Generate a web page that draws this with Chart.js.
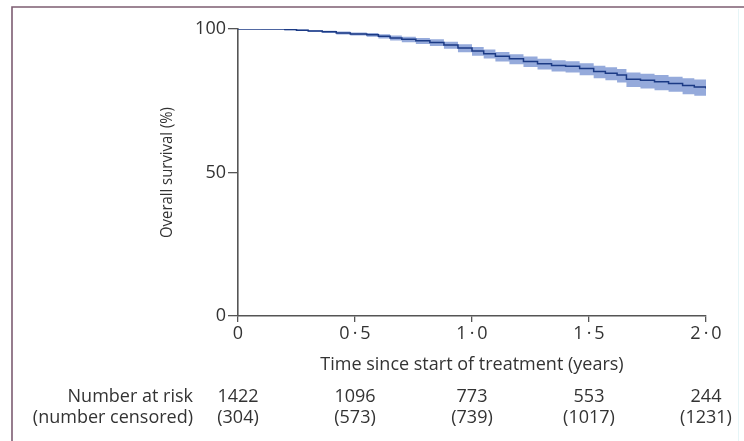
<!DOCTYPE html>
<html>
<head>
<meta charset="utf-8">
<script src="https://cdn.jsdelivr.net/npm/chart.js@4.4.0/dist/chart.umd.min.js"></script>
<style>
  html, body { margin: 0; padding: 0; background: #fff; }
  #survChart { display: block; }
</style>
</head>
<body>
<canvas id="survChart" width="744" height="441"></canvas>
<script>
// Kaplan-Meier overall survival with 95% CI band
const kmTime = [0, 0.10, 0.20, 0.25, 0.30, 0.36, 0.42, 0.48, 0.55, 0.60,
                0.65, 0.70, 0.76, 0.82, 0.88, 0.94, 1.00, 1.05, 1.10, 1.16,
                1.22, 1.28, 1.34, 1.40, 1.46, 1.52, 1.57, 1.62, 1.66, 1.72,
                1.78, 1.84, 1.90, 1.95, 2.00];
const kmSurv = [100, 100, 99.8, 99.6, 99.3, 99.0, 98.6, 98.3, 98.0, 97.5,
                96.9, 96.4, 95.9, 95.3, 94.4, 93.4, 92.3, 91.4, 90.5, 89.6,
                88.7, 87.9, 87.3, 87.0, 86.2, 85.2, 84.6, 84.0, 82.5, 82.1,
                81.6, 81.0, 80.3, 79.8, 79.3];
const ciUpper = [100, 100, 99.9, 99.8, 99.6, 99.4, 99.1, 98.8, 98.6, 98.2,
                 97.7, 97.3, 96.9, 96.4, 95.6, 94.7, 93.7, 92.9, 92.0, 91.2,
                 90.4, 89.6, 89.1, 88.8, 88.1, 87.2, 86.7, 86.1, 84.8, 84.4,
                 84.0, 83.4, 82.8, 82.4, 81.9];
const ciLower = [100, 99.9, 99.6, 99.3, 99.0, 98.6, 98.1, 97.7, 97.3, 96.7,
                 96.0, 95.4, 94.8, 94.1, 93.1, 91.9, 90.7, 89.7, 88.7, 87.7,
                 86.8, 85.9, 85.2, 84.8, 83.9, 82.8, 82.1, 81.4, 79.8, 79.3,
                 78.7, 78.1, 77.3, 76.7, 76.2];

const xTicks = [0, 0.5, 1, 1.5, 2];
const xTickLabels = ['0', '0\u2009·\u20095', '1\u2009·\u20090', '1\u2009·\u20095', '2\u2009·\u20090'];
const yTicks = [0, 50, 100];

const atRisk = [1422, 1096, 773, 553, 244];
const censored = [304, 573, 739, 1017, 1231];

const FONT = '"Open Sans", sans-serif';
const TEXT_COLOR = '#333';
const AXIS_COLOR = '#555';

const toPoints = ys => kmTime.map((t, i) => ({ x: t, y: ys[i] }));

// white page with the thin frame on top and left
const framePlugin = {
    id: 'frame',
    beforeDraw(chart) {
        const ctx = chart.ctx;
        ctx.save();
        ctx.fillStyle = '#fff';
        ctx.fillRect(0, 0, chart.width, chart.height);
        ctx.strokeStyle = '#7d5d72';
        ctx.lineWidth = 1.6;
        ctx.beginPath();
        ctx.moveTo(12, chart.height);
        ctx.lineTo(12, 7);
        ctx.lineTo(chart.width, 7);
        ctx.stroke();
        ctx.strokeStyle = '#e6f5f7';
        ctx.lineWidth = 1;
        ctx.beginPath();
        ctx.moveTo(738.5, 9);
        ctx.lineTo(738.5, chart.height);
        ctx.stroke();
        ctx.restore();
    }
};

// axis titles and the number-at-risk table
const textPlugin = {
    id: 'texts',
    afterDraw(chart) {
        const ctx = chart.ctx;
        const area = chart.chartArea;
        const xs = chart.scales.x;
        const ys = chart.scales.y;
        ctx.save();
        ctx.fillStyle = TEXT_COLOR;
        ctx.textBaseline = 'middle';

        ctx.font = '18px ' + FONT;
        ctx.textAlign = 'center';
        ctx.fillText('Time since start of treatment (years)', (area.left + area.right) / 2, 365);

        // y title is set in a narrower face, so squeeze it along its length
        ctx.save();
        ctx.font = '17px ' + FONT;
        ctx.translate(167, ys.getPixelForValue(50));
        ctx.rotate(-Math.PI / 2);
        ctx.scale(0.875, 1);
        ctx.fillText('Overall survival (%)', 0, 0);
        ctx.restore();

        ctx.textAlign = 'right';
        ctx.fillText('Number at risk', 193, 397);
        ctx.fillText('(number censored)', 193, 418);

        ctx.textAlign = 'center';
        xTicks.forEach((t, i) => {
            const px = xs.getPixelForValue(t);
            ctx.fillText(String(atRisk[i]), px, 397);
            ctx.fillText('(' + censored[i] + ')', px, 418);
        });
        ctx.restore();
    }
};

new Chart(document.getElementById('survChart'), {
    type: 'line',
    data: {
        datasets: [{
            data: toPoints(kmSurv),
            borderColor: '#1b3a85',
            borderWidth: 1.5,
            pointRadius: 0,
            stepped: true,
            fill: false
        }, {
            data: toPoints(ciUpper),
            borderWidth: 0,
            borderColor: 'rgba(0,0,0,0)',
            backgroundColor: '#95aadb',
            pointRadius: 0,
            stepped: true,
            fill: '+1'
        }, {
            data: toPoints(ciLower),
            borderWidth: 0,
            borderColor: 'rgba(0,0,0,0)',
            pointRadius: 0,
            stepped: true,
            fill: false
        }]
    },
    options: {
        responsive: false,
        animation: false,
        layout: { padding: { left: 0, right: 38, top: 29, bottom: 0 } },
        plugins: {
            legend: { display: false },
            tooltip: { enabled: false }
        },
        scales: {
            x: {
                type: 'linear',
                min: 0,
                max: 2,
                afterBuildTicks: scale => { scale.ticks = xTicks.map(v => ({ value: v })); },
                afterFit: scale => { scale.height = 125; },
                ticks: {
                    callback: (v, i) => xTickLabels[i],
                    color: TEXT_COLOR,
                    font: { family: FONT, size: 18 },
                    padding: 1,
                    maxRotation: 0
                },
                grid: { drawOnChartArea: false, drawTicks: true, tickLength: 6, color: AXIS_COLOR, lineWidth: 1.3 },
                border: { display: true, color: AXIS_COLOR, width: 1.6 }
            },
            y: {
                min: 0,
                max: 100,
                afterBuildTicks: scale => { scale.ticks = yTicks.map(v => ({ value: v })); },
                afterFit: scale => { scale.width = 238; },
                ticks: {
                    color: TEXT_COLOR,
                    font: { family: FONT, size: 18 },
                    padding: 2
                },
                grid: { drawOnChartArea: false, drawTicks: true, tickLength: 10, color: AXIS_COLOR, lineWidth: 1.3 },
                border: { display: true, color: AXIS_COLOR, width: 1.6 }
            }
        }
    },
    plugins: [framePlugin, textPlugin]
});
</script>
</body>
</html>
